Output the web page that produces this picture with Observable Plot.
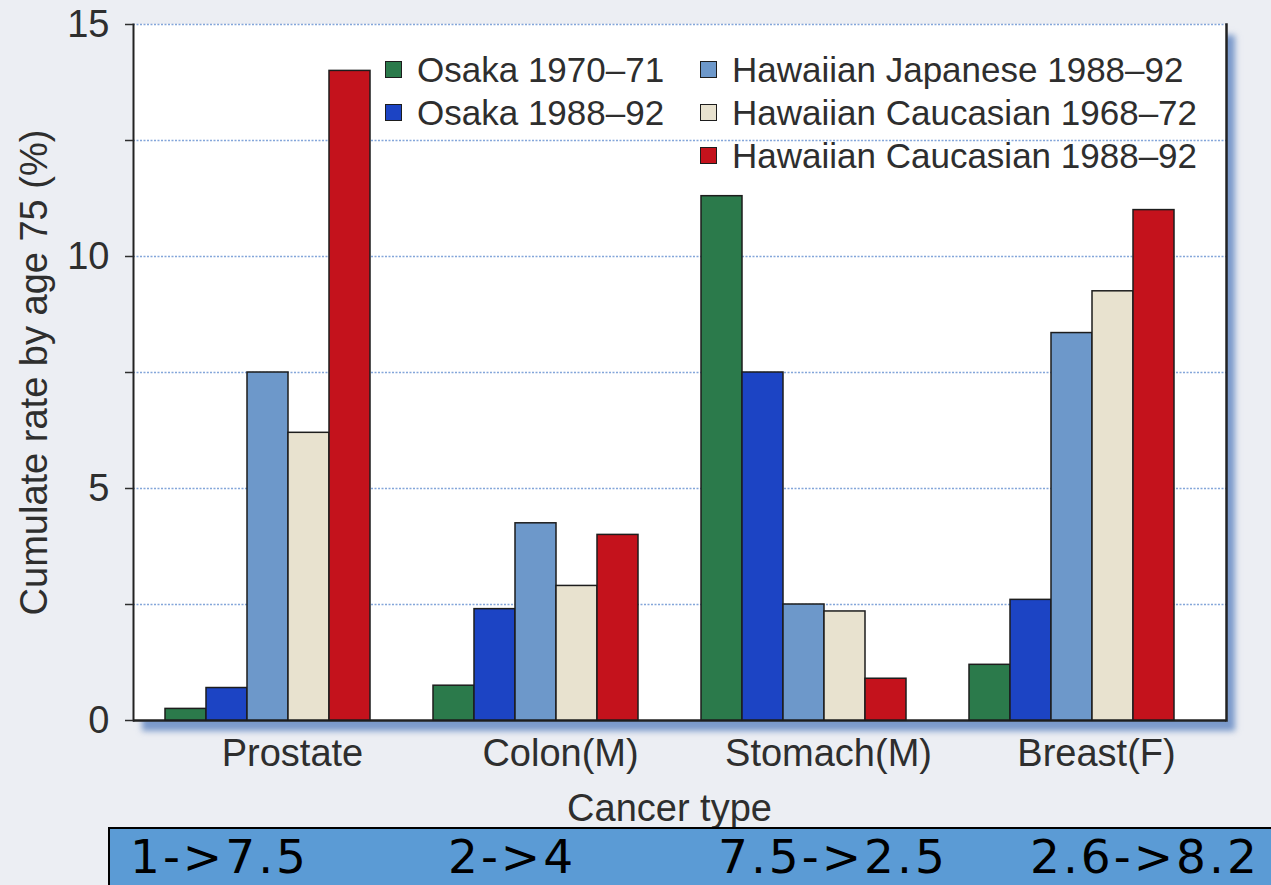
<!DOCTYPE html>
<html>
<head>
<meta charset="utf-8">
<script src="https://cdn.jsdelivr.net/npm/d3@7"></script>
<script src="https://cdn.jsdelivr.net/npm/@observablehq/plot@0.6"></script>
<style>
  html, body { margin: 0; padding: 0; }
  body {
    width: 1271px; height: 885px; overflow: hidden; position: relative;
    background: #eceef3;
    font-family: "Liberation Sans", Arial, sans-serif;
    color: #2e2e2e;
  }
  #panel {
    position: absolute; left: 133px; top: 24px; width: 1093px; height: 696px;
    background: #fff;
    box-shadow: 9px 11px 6px rgba(86, 126, 190, 0.75);
  }
  .layer { position: absolute; left: 0; top: 0; }
  .legend-col { position: absolute; top: 48px; }
  .legend-item { display: flex; align-items: center; height: 43px; font-size: 35px; white-space: nowrap; }
  .swatch { width: 15px; height: 15px; border: 1.5px solid #1d1d1d; margin-right: 15px; flex: none; }
  #changes {
    position: absolute; left: 108px; top: 827px; width: 1163px; height: 56px;
    background: #5b9bd5; border-top: 2px solid #000; border-left: 2px solid #000;
  }
  #changes span {
    position: absolute; top: 4px; font-family: "DejaVu Sans", Verdana, sans-serif;
    font-size: 47px; line-height: 47px; letter-spacing: 3px; color: #000; white-space: nowrap;
  }
</style>
</head>
<body>
<div id="panel"></div>
<div id="axes" class="layer"></div>
<div id="bars" class="layer"></div>
<div id="legend"></div>
<div id="changes"></div>
<script>
// Cancer sites along the x axis
const cancers = ["Prostate", "Colon(M)", "Stomach(M)", "Breast(F)"];

// Population / period series
const series = [
  "Osaka 1970–71",
  "Osaka 1988–92",
  "Hawaiian Japanese 1988–92",
  "Hawaiian Caucasian 1968–72",
  "Hawaiian Caucasian 1988–92"
];
const seriesColors = ["#2b7a4b", "#1c44c4", "#6d98ca", "#e8e2cf", "#c4121c"];

// Cumulative rate by age 75 (%), one value per cancer site
const osaka1970 = [0.25, 0.75, 11.3, 1.2];
const osaka1988 = [0.7, 2.4, 7.5, 2.6];
const hawaiianJapanese1988 = [7.5, 4.25, 2.5, 8.35];
const hawaiianCaucasian1968 = [6.2, 2.9, 2.35, 9.25];
const hawaiianCaucasian1988 = [14.0, 4.0, 0.9, 11.0];

// Y axis ticks (labels every 5)
const yTicks = [0, 2.5, 5, 7.5, 10, 12.5, 15];

// Osaka 1988–92 -> Hawaiian Japanese 1988–92 summary under each site
const changeLabels = ["1->7.5", "2->4", "7.5->2.5", "2.6->8.2"];
const changeLeft = [20, 338, 608, 920];

const seriesValues = [osaka1970, osaka1988, hawaiianJapanese1988, hawaiianCaucasian1968, hawaiianCaucasian1988];
const rows = [];
cancers.forEach((cancer, i) =>
  series.forEach((s, j) => rows.push({cancer, series: s, value: seriesValues[j][i]}))
);

// Shared frame geometry for both layers
const frameOpts = {
  width: 1271,
  height: 827,
  marginLeft: 133,
  marginRight: 45,
  marginTop: 24,
  marginBottom: 107,
  style: {background: "transparent", fontFamily: "'Liberation Sans', Arial, sans-serif", color: "#2e2e2e", overflow: "visible"}
};
const yScale = {domain: [0, 15], nice: false};

// Back layer: gridlines, value axis and the frame lines
const axes = Plot.plot({
  ...frameOpts,
  y: yScale,
  marks: [
    Plot.gridY({ticks: yTicks.filter(d => d > 0), stroke: "#6f97d3", strokeOpacity: 0.85, strokeWidth: 1.4, strokeDasharray: "2,1.5"}),
    Plot.frame({anchor: "left", stroke: "#222", strokeWidth: 2}),
    Plot.frame({anchor: "right", stroke: "#222", strokeWidth: 2.5}),
    Plot.ruleY([0], {stroke: "#222", strokeWidth: 2.5}),
    Plot.axisY({
      ticks: yTicks, tickSize: 8, tickPadding: 16, strokeWidth: 1.5,
      tickFormat: d => d % 5 === 0 ? String(d) : "",
      fontSize: 38, label: "Cumulate rate by age 75 (%)", labelAnchor: "center", labelOffset: 113, labelArrow: "none"
    })
  ]
});
document.getElementById("axes").append(axes);

// Front layer: grouped bars faceted by cancer site, with the site labels
const bars = Plot.plot({
  ...frameOpts,
  fx: {domain: cancers, paddingInner: 0.225, paddingOuter: 0.11, insetRight: 22},
  x: {domain: series, padding: 0, axis: null},
  y: {...yScale, axis: null},
  color: {domain: series, range: seriesColors},
  marks: [
    Plot.barY(rows, {fx: "cancer", x: "series", y: "value", fill: "series", stroke: "#1d1d1d", strokeWidth: 1.5}),
    Plot.axisFx({
      anchor: "bottom", tickSize: 0, tickPadding: 19, fontSize: 38, dx: 25,
      label: "Cancer type", labelAnchor: "center", labelOffset: 100
    })
  ]
});
document.getElementById("bars").append(bars);

// Legend: two columns, Osaka series on the left, Hawaiian series on the right
const legend = document.getElementById("legend");
[[0, 2, 385], [2, 5, 700]].forEach(([from, to, left]) => {
  const col = document.createElement("div");
  col.className = "legend-col";
  col.style.left = left + "px";
  for (let j = from; j < to; j++) {
    const item = document.createElement("div");
    item.className = "legend-item";
    const sw = document.createElement("span");
    sw.className = "swatch";
    sw.style.background = seriesColors[j];
    item.append(sw, document.createTextNode(series[j]));
    col.append(item);
  }
  legend.append(col);
});

// Summary strip
const changes = document.getElementById("changes");
changeLabels.forEach((t, i) => {
  const s = document.createElement("span");
  s.textContent = t;
  s.style.left = changeLeft[i] + "px";
  changes.append(s);
});
</script>
</body>
</html>
